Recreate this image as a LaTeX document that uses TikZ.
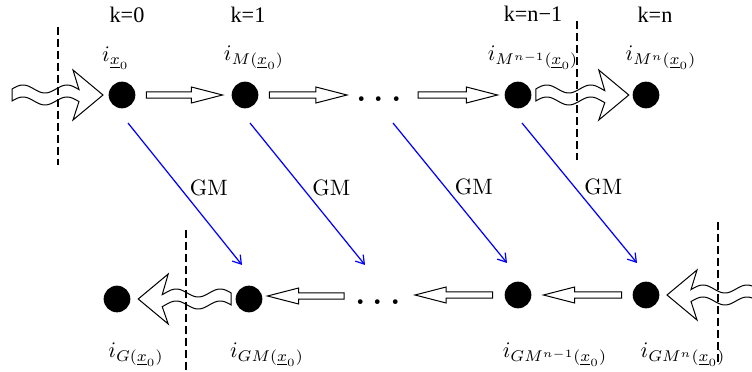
\documentclass[tikz,border=0pt]{standalone}
\usepackage{amsmath}
\usepackage{amssymb}
\usepackage{fontspec}
\newfontfamily\timesfont{Liberation Serif}
\usepackage{tikz}
\usetikzlibrary{arrows.meta,calc}

\begin{document}
\begin{tikzpicture}[x=0.45pt, y=-0.45pt,
		dot/.style={circle, fill=black, inner sep=0pt, minimum size=12pt},
		lbl/.style={inner sep=1pt},
		klbl/.style={inner sep=1pt, font=\timesfont},
		dotsnode/.style={inner sep=0pt, font=\fontsize{26}{26}\selectfont},
		cut/.style={draw=black, line width=1pt, dash pattern=on 3.4pt off 2pt},
		gm/.style={draw=blue, line width=0.55pt, -{Straight Barb[length=3.6pt,width=4.6pt]}},
		gmlabel/.style={anchor=west, inner sep=4pt, pos=0.46},
		blockarrow/.style={draw=black, line width=0.45pt, to path={
				let \p1=(\tikztostart), \p2=(\tikztotarget), \n1={(\x2>\x1)*2-1} in
				(\x1,\y1+1.45pt) -- (\x2-\n1*14pt,\y1+1.45pt) -- (\x2-\n1*14pt,\y1+3.6pt)
				-- (\x2,\y1) -- (\x2-\n1*14pt,\y1-3.6pt) -- (\x2-\n1*14pt,\y1-1.45pt)
				-- (\x1,\y1-1.45pt) -- cycle}},
		pics/wavyarrow/.style={code={
				\draw[line width=0.45pt]
				plot[domain=0:#1-24, samples=40] (\x,{-6-4*cos(8.18*(\x-11))})
				-- (#1-30,-25) -- (#1,0) -- (#1-30,25)
				-- plot[domain=#1-24:0, samples=40] (\x,{6-4*cos(8.18*(\x-11))})
				-- cycle;
		}}]
			\useasboundingbox (0,0) rectangle (752,372);
			
			% top row
			\node[dot] (t0) at (122,95){};
			\node[dot] (t1) at (245,95){};
			\node[dotsnode] (tdots) at (379,99){.\kern1.3pt.\kern1.3pt.};
			\node[dot] (t2) at (518,95){};
			\node[dot] (t3) at (646,95){};
			
			\node[klbl] (k0) at (127,15){k=0};
			\node[klbl] (k1) at (248,15){k=1};
			\node[klbl] (k2) at (533,14){k=n−1};
			\node[klbl] (k3) at (655,15){k=n};
			
			\node[lbl] (lt0) at (116,58){$i_{\underline{x}_0}$};
			\node[lbl] (lt1) at (254,58){$i_{M(\underline{x}_0)}$};
			\node[lbl] (lt2) at (533,58){$i_{M^{n-1}(\underline{x}_0)}$};
			\node[lbl] (lt3) at (661,58){$i_{M^n(\underline{x}_0)}$};
			
			% bottom row
			\node[dot] (b0) at (117,299){};
			\node[dot] (b1) at (249,299){};
			\node[dotsnode] (bdots) at (378,302){.\kern1.3pt.\kern1.3pt.};
			\node[dot] (b2) at (518,295){};
			\node[dot] (b3) at (646,295){};
			
			\node[lbl] (lb0) at (136,355){$i_{G(\underline{x}_0)}$};
			\node[lbl] (lb1) at (267,355){$i_{GM(\underline{x}_0)}$};
			\node[lbl] (lb2) at (555,355){$i_{GM^{n-1}(\underline{x}_0)}$};
			\node[lbl] (lb3) at (683,355){$i_{GM^n(\underline{x}_0)}$};
			
			\coordinate (in0) at (12,95);
			\coordinate (in1) at (758,295);
			
			\draw[blockarrow] ([shift={(10.7,0)}]t0.east) to ([shift={(-8.7,0)}]t1.west);
			\draw[blockarrow] ([shift={(10.7,0)}]t1.east) to ([shift={(-32,0)}]tdots.center);
			\draw[blockarrow] ([shift={(39,-4)}]tdots.center) to ([shift={(-6.7,0)}]t2.west);
			\draw[blockarrow] ([shift={(-34,-6)}]bdots.center) to ([shift={(4.7,0)}]b1.east);
			\draw[blockarrow] ([shift={(-11.7,0)}]b2.west) to ([shift={(37,0)}]bdots.center);
			\draw[blockarrow] ([shift={(-10.7,0)}]b3.west) to ([shift={(11.7,0)}]b2.east);
			
			\pic at (in0) {wavyarrow=91};
			\pic at ([shift={(4,0)}]t2.east) {wavyarrow=93};
			\pic[xscale=-1] at ([shift={(-4,0)}]b1.west) {wavyarrow=93};
			\pic[xscale=-1] at (in1) {wavyarrow=91};
			
			\draw[gm] ([shift={(6,28)}]t0.center) -- node[gmlabel]{GM} ([shift={(-7,-34)}]b1.center);
			\draw[gm] ([shift={(5,28)}]t1.center) -- node[gmlabel]{GM} ([shift={(-13,-37)}]bdots.center);
			\draw[gm] ([shift={(14,24)}]tdots.center) -- node[gmlabel]{GM} ([shift={(-11,-32)}]b2.center);
			\draw[gm] ([shift={(4,28)}]t2.center) -- node[gmlabel]{GM} ([shift={(-9,-32)}]b3.center);
			
			\draw[cut] (58,27) -- (58,165);
			\draw[cut] (577,21) -- (577,160);
			\draw[cut] (186,230) -- (186,380);
			\draw[cut] (718,222) -- (718,362);
			\end{tikzpicture}
\end{document}
